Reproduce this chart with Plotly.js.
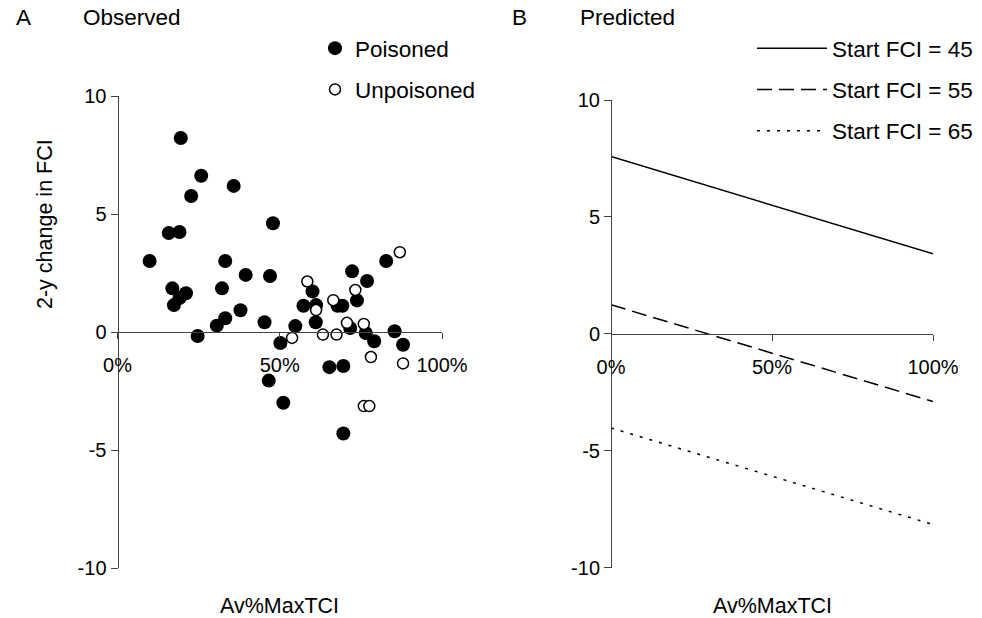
<!DOCTYPE html>
<html><head><meta charset="utf-8">
<script src="https://cdn.plot.ly/plotly-3.0.1.min.js"></script>
<style>html,body{margin:0;padding:0;background:#fff}#chart{width:982px;height:618px}</style>
</head><body><div id="chart"></div>
<script>
// Panel A: observed 2-y change in FCI vs Av%MaxTCI
const poisonedX = [9.9, 19.5, 25.8, 22.7, 35.8, 15.8, 19.1, 47.9, 33.2, 39.5, 47.0, 16.9, 32.2, 21.1, 19.1, 17.4, 37.9, 33.2, 30.6, 24.7, 45.3, 50.2, 54.8, 57.3, 60.1, 61.2, 61.1, 67.8, 69.3, 72.3, 73.8, 76.9, 71.7, 76.5, 79.1, 82.8, 85.4, 88.0, 46.6, 51.1, 65.3, 69.6, 69.6];
const poisonedY = [3.01, 8.22, 6.62, 5.76, 6.19, 4.19, 4.24, 4.61, 3.01, 2.42, 2.37, 1.85, 1.85, 1.64, 1.44, 1.14, 0.92, 0.58, 0.27, -0.17, 0.41, -0.47, 0.25, 1.11, 1.72, 1.14, 0.41, 1.11, 1.11, 2.57, 1.34, 2.16, 0.17, -0.04, -0.39, 3.01, 0.03, -0.54, -2.06, -3.0, -1.49, -1.44, -4.30];
const unpoisonedX = [58.5, 61.2, 66.5, 73.3, 87.0, 53.8, 63.3, 67.5, 70.7, 75.9, 78.1, 88.0, 75.9, 77.6];
const unpoisonedY = [2.14, 0.93, 1.35, 1.78, 3.38, -0.25, -0.11, -0.11, 0.39, 0.34, -1.06, -1.33, -3.14, -3.14];

// Panel B: predicted lines
const predX = [0, 100];
const fci45Y = [7.58, 3.42];
const fci55Y = [1.24, -2.90];
const fci65Y = [-4.03, -8.16];

const yTickVals = [-10, -5, 0, 5, 10];
const xTickVals = [0, 50, 100];
const xTickText = ['0%', '50%', '100%'];

const FONT = 'Liberation Sans, Arial, sans-serif';
const W = 982, H = 618;
const px = v => v / W;
const py = v => 1 - v / H;

const yDomA = [py(568), py(96)];
const yDomB = [py(567.5), py(100)];
const xDomA = [px(117.5), px(442)];
const xDomB = [px(611), px(933)];

const traces = [
  {x: poisonedX, y: poisonedY, xaxis: 'x', yaxis: 'y', type: 'scatter', mode: 'markers', name: 'Poisoned',
   legend: 'legend', legendgroup: 'p',
   marker: {symbol: 'circle', size: 14, color: '#000', line: {width: 0}}},
  {x: unpoisonedX, y: unpoisonedY, xaxis: 'x', yaxis: 'y', type: 'scatter', mode: 'markers', name: 'Unpoisoned',
   legend: 'legend', legendgroup: 'u',
   marker: {symbol: 'circle', size: 11, color: '#fff', line: {width: 1.5, color: '#000'}}},
  {x: predX, y: fci45Y, xaxis: 'x2', yaxis: 'y2', type: 'scatter', mode: 'lines', name: 'Start FCI = 45',
   legend: 'legend2', legendgroup: 'a', line: {color: '#000', width: 1.5, dash: 'solid'}},
  {x: predX, y: fci55Y, xaxis: 'x2', yaxis: 'y2', type: 'scatter', mode: 'lines', name: 'Start FCI = 55',
   legend: 'legend2', legendgroup: 'b', line: {color: '#000', width: 1.5, dash: '15px,7px'}},
  {x: predX, y: fci65Y, xaxis: 'x2', yaxis: 'y2', type: 'scatter', mode: 'lines', name: 'Start FCI = 65',
   legend: 'legend2', legendgroup: 'c', line: {color: '#000', width: 1.5, dash: '3px,7px'}}
];

function xAxis(dom, yDom) {
  return {
    domain: dom, range: [0, 100], anchor: 'free', position: (yDom[0] + yDom[1]) / 2,
    showline: true, linecolor: '#444', linewidth: 1, showgrid: false, zeroline: false,
    ticks: 'outside', ticklen: 6, tickcolor: '#444', tickwidth: 1,
    tickvals: xTickVals, ticktext: xTickText, ticklabelstandoff: 9,
    tickfont: {family: FONT, size: 20, color: '#000'}, fixedrange: true
  };
}
function yAxis(dom, xDom) {
  return {
    domain: dom, range: [-10, 10], anchor: 'free', position: xDom[0],
    showline: true, linecolor: '#444', linewidth: 1, showgrid: false, zeroline: false,
    ticks: 'outside', ticklen: 7, tickcolor: '#444', tickwidth: 1,
    tickvals: yTickVals, ticktext: yTickVals.map(String),
    tickfont: {family: FONT, size: 20, color: '#000'}, fixedrange: true
  };
}

const ann = (text, x, y, extra) => Object.assign({
  text: text, xref: 'paper', yref: 'paper', x: px(x), y: py(y), showarrow: false,
  font: {family: FONT, size: 22.5, color: '#000'}, xanchor: 'left', yanchor: 'middle'
}, extra || {});
const axFont = {family: FONT, size: 21.5, color: '#000'};

const layout = {
  width: W, height: H, margin: {l: 0, r: 0, t: 0, b: 0},
  paper_bgcolor: '#fff', plot_bgcolor: '#fff',
  font: {family: FONT, size: 20, color: '#000'},
  xaxis: xAxis(xDomA, yDomA), yaxis: yAxis(yDomA, xDomA),
  xaxis2: xAxis(xDomB, yDomB), yaxis2: yAxis(yDomB, xDomB),
  showlegend: true,
  legend: {x: px(315), y: py(27), xanchor: 'left', yanchor: 'top', bgcolor: 'rgba(0,0,0,0)',
           font: {family: FONT, size: 22.5, color: '#000'}, traceorder: 'grouped', tracegroupgap: 9,
           itemwidth: 30},
  legend2: {x: px(752), y: py(27), xanchor: 'left', yanchor: 'top', bgcolor: 'rgba(0,0,0,0)',
           font: {family: FONT, size: 22.5, color: '#000'}, traceorder: 'grouped', tracegroupgap: 9,
           itemwidth: 70},
  annotations: [
    ann('A', 14, 18), ann('Observed', 81, 18),
    ann('B', 510, 18), ann('Predicted', 578, 18),
    ann('2-y change in FCI', 45, 224, {textangle: -90, xanchor: 'center', font: axFont}),
    ann('Av%MaxTCI', 279, 606, {xanchor: 'center', font: axFont}),
    ann('Av%MaxTCI', 772, 606, {xanchor: 'center', font: axFont})
  ]
};

Plotly.newPlot('chart', traces, layout, {displayModeBar: false, staticPlot: true});
</script>
</body></html>
